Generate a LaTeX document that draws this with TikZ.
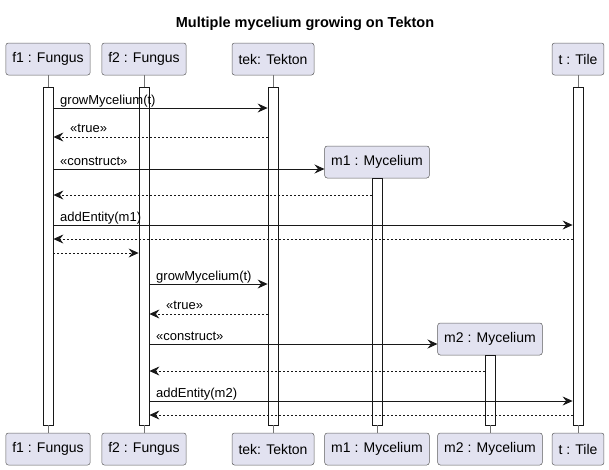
\documentclass[tikz,border=0pt]{standalone}
\usepackage{fontspec}
\setmainfont{Liberation Sans}
\usetikzlibrary{positioning, arrows.meta}
\definecolor{partfill}{HTML}{E2E2F0}
\definecolor{umlline}{HTML}{181818}

\begin{document}
\begin{tikzpicture}[x=1pt, y=-1pt,
  part/.style={draw=umlline!70, fill=partfill, rounded corners=2.5pt, line width=0.5pt,
    minimum height=32pt, inner xsep=6.5pt, font=\fontsize{14}{16}\selectfont},
  actbar/.style={draw=umlline, fill=white, line width=0.8pt, minimum width=10pt, inner sep=0pt},
  life/.style={draw=umlline!60, line width=0.5pt},
  msg/.style={draw=umlline, line width=0.8pt, -{Stealth[length=10pt, width=9pt, inset=3.5pt]}},
  ret/.style={msg, dash pattern=on 2pt off 2pt},
  lbl/.style={font=\fontsize{13}{15}\selectfont, anchor=base west, inner sep=0pt}]
  \useasboundingbox (0,0) rectangle (609,469);
  \node[font=\bfseries\fontsize{14.5}{17}\selectfont] (title) at (305,24) {Multiple mycelium growing on Tekton};

  % partecipanti (sopra e sotto)
  \foreach \n/\x/\lab in {f1/48/f1 : Fungus, f2/144/f2 : Fungus, tek/273/tek: Tekton, t/578/t : Tile}{
    \node[part] (\n) at (\x,59) {\lab};
  }
  \node[part] (m1) at (377,162) {m1 : Mycelium};
  \node[part] (m2) at (490,339) {m2 : Mycelium};
  \foreach \n/\x/\lab in {f1/48/f1 : Fungus, f2/144/f2 : Fungus, tek/273/tek: Tekton,
      m1/377/m1 : Mycelium, m2/490/m2 : Mycelium, t/578/t : Tile}{
    \node[part] (\n b) at (\x,449) {\lab};
  }

  % barre di attivazione
  \foreach \n/\x/\top in {f1/48/87, f2/144/87, tek/273/87, t/578/87, m1/377/178, m2/490/355}{
    \node[actbar, minimum height={(425-\top)*1pt}] (\n act) at (\x,{(425+\top)/2}) {};
    \draw[life] (\n act.south) -- (\n b.north);
  }
  \foreach \n in {f1, f2, tek, t}{ \draw[life] (\n.south) -- (\n act.north); }

  % messaggi f1
  \draw[msg] (f1act.east |- 0,108) -- (tekact.west |- 0,108);
  \node[lbl] (l1) at (60,104) {growMycelium(t)};
  \draw[ret] (tekact.west |- 0,137) -- (f1act.east |- 0,137);
  \node[lbl] (l2) at (70,132.5) {«true»};
  \draw[msg] (f1act.east |- 0,169) -- (m1.west |- 0,169);
  \node[lbl] (l3) at (60,165) {«construct»};
  \draw[ret] (m1act.west |- 0,195) -- (f1act.east |- 0,195);
  \draw[msg] (f1act.east |- 0,225) -- (tact.west |- 0,225);
  \node[lbl] (l4) at (60,221) {addEntity(m1)};
  \draw[ret] (tact.west |- 0,239) -- (f1act.east |- 0,239);
  \draw[ret] (f1act.east |- 0,253) -- (f2act.west |- 0,253);

  % messaggi f2
  \draw[msg] (f2act.east |- 0,284) -- (tekact.west |- 0,284);
  \node[lbl] (l5) at (156,280) {growMycelium(t)};
  \draw[ret] (tekact.west |- 0,314) -- (f2act.east |- 0,314);
  \node[lbl] (l6) at (166,309.5) {«true»};
  \draw[msg] (f2act.east |- 0,344) -- (m2.west |- 0,344);
  \node[lbl] (l7) at (156,340) {«construct»};
  \draw[ret] (m2act.west |- 0,371) -- (f2act.east |- 0,371);
  \draw[msg] (f2act.east |- 0,401) -- (tact.west |- 0,401);
  \node[lbl] (l8) at (156,397) {addEntity(m2)};
  \draw[ret] (tact.west |- 0,415) -- (f2act.east |- 0,415);
\end{tikzpicture}
\end{document}
